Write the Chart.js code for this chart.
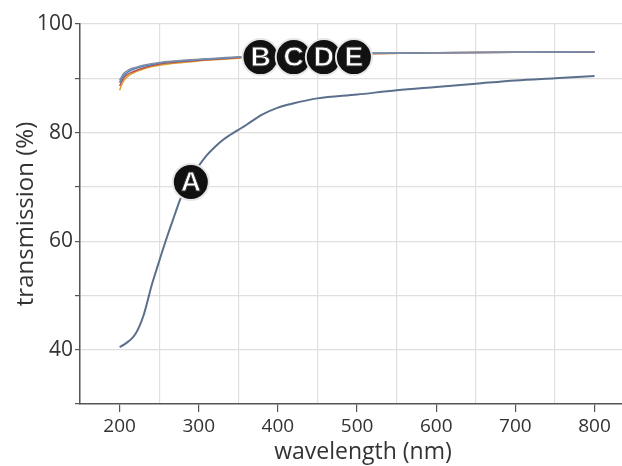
<!DOCTYPE html>
<html>
<head>
<meta charset="utf-8">
<script src="https://cdn.jsdelivr.net/npm/chart.js@4"></script>
<style>
  html, body { margin: 0; padding: 0; background: #fff; overflow: hidden; }
  #wrap { width: 622px; height: 466px; overflow: hidden; }
</style>
</head>
<body>
<div id="wrap"><canvas id="chart" width="650" height="466"></canvas></div>
<script>
// transmission curves
const wavelengthsA = [200, 205, 210, 215, 220, 225, 230, 235, 240, 245, 250, 255, 260, 265, 270, 275, 280, 290, 300, 310, 320, 330, 340, 350, 360, 380, 400, 420, 450, 500, 550, 600, 650, 700, 750, 800];
const seriesA = [40.5, 40.9, 41.4, 42.0, 42.9, 44.3, 46.2, 48.8, 51.6, 54.0, 56.3, 58.6, 60.8, 62.9, 65.0, 67.1, 68.9, 71.9, 73.9, 75.8, 77.3, 78.6, 79.6, 80.5, 81.4, 83.3, 84.6, 85.4, 86.3, 87.0, 87.8, 88.4, 89.0, 89.6, 90.0, 90.4];

const wavelengthsBE = [200, 203, 206, 210, 215, 220, 230, 240, 250, 260, 280, 300, 330, 360, 400, 450, 500, 600, 700, 800];
const seriesB = [87.8, 88.9, 89.7, 90.3, 90.8, 91.2, 91.7, 92.1, 92.4, 92.6, 92.9, 93.2, 93.5, 93.8, 94.2, 94.4, 94.5, 94.7, 94.8, 94.8];
const seriesC = [88.6, 89.5, 90.2, 90.7, 91.1, 91.4, 91.9, 92.3, 92.6, 92.8, 93.1, 93.3, 93.6, 93.9, 94.2, 94.4, 94.5, 94.7, 94.8, 94.8];
const seriesD = [89.2, 90.0, 90.6, 91.1, 91.5, 91.8, 92.2, 92.5, 92.8, 93.0, 93.2, 93.4, 93.7, 94.0, 94.3, 94.5, 94.6, 94.7, 94.8, 94.9];
const seriesE = [89.6, 90.4, 91.0, 91.4, 91.8, 92.0, 92.4, 92.7, 92.9, 93.1, 93.3, 93.5, 93.8, 94.0, 94.3, 94.5, 94.6, 94.7, 94.8, 94.9];

// curve labels, placed in data units
const labelText = ['A', 'B', 'C', 'D', 'E'];
const labelX = [290, 378, 420, 458, 496];
const labelY = [70.9, 93.9, 93.9, 93.9, 93.9];

const xMin = 150;
const xMax = 865;
const yMin = 30;
const yMax = 100;

function toPoints(xs, ys) {
  return xs.map((x, i) => ({ x: x, y: ys[i] }));
}

function lineSet(label, xs, ys, color, width) {
  return {
    label: label,
    data: toPoints(xs, ys),
    borderColor: color,
    borderWidth: width,
    pointRadius: 0,
    cubicInterpolationMode: 'monotone',
    fill: false
  };
}

const circleLabels = {
  id: 'circleLabels',
  afterDatasetsDraw(chart) {
    const ctx = chart.ctx;
    const xs = chart.scales.x;
    const ys = chart.scales.y;
    ctx.save();
    labelText.forEach((t, i) => {
      const px = xs.getPixelForValue(labelX[i]);
      const py = ys.getPixelForValue(labelY[i]);
      ctx.beginPath();
      ctx.arc(px, py, 18, 0, Math.PI * 2);
      ctx.fillStyle = '#111';
      ctx.fill();
      ctx.lineWidth = 2;
      ctx.strokeStyle = '#e6e6e6';
      ctx.stroke();
      ctx.font = 'bold 28px "Liberation Sans", Arial, sans-serif';
      ctx.textAlign = 'center';
      ctx.textBaseline = 'middle';
      ctx.fillStyle = '#fff';
      ctx.fillText(t, px, py + 1);
      ctx.lineWidth = 0.8;
      ctx.strokeStyle = '#333';
      ctx.strokeText(t, px, py + 1);
    });
    ctx.restore();
  }
};

// Chart.js paints the first dataset last, so E ends up on top of B-D
new Chart(document.getElementById('chart'), {
  type: 'line',
  data: {
    datasets: [
      lineSet('A', wavelengthsA, seriesA, '#5b6f8c', 2),
      lineSet('E', wavelengthsBE, seriesE, '#7f8ea4', 1.5),
      lineSet('D', wavelengthsBE, seriesD, '#4f81bd', 1.5),
      lineSet('C', wavelengthsBE, seriesC, '#c0504d', 1.5),
      lineSet('B', wavelengthsBE, seriesB, '#d9a02b', 1.5)
    ]
  },
  options: {
    responsive: false,
    animation: false,
    layout: { padding: { top: 24, right: 4, left: 0, bottom: 0 } },
    plugins: {
      legend: { display: false },
      tooltip: { enabled: false }
    },
    scales: {
      x: {
        type: 'linear',
        min: xMin,
        max: xMax,
        afterFit: s => { s.height = 62; },
        border: { color: '#555', width: 1.5 },
        grid: {
          color: c => (c.tick && c.tick.value % 100 === 50) ? '#e2dede' : 'rgba(0,0,0,0)',
          tickColor: c => (c.tick && c.tick.value % 100 === 0) ? '#555' : 'rgba(0,0,0,0)',
          tickLength: 8,
          lineWidth: 1.2
        },
        ticks: {
          stepSize: 50,
          autoSkip: false,
          maxRotation: 0,
          padding: 3,
          color: '#333',
          font: { family: '"Open Sans"', size: 19 },
          callback: v => (v % 100 === 0 ? String(v) : '')
        },
        title: {
          display: true,
          text: 'wavelength (nm)',
          color: '#333',
          font: { family: '"Open Sans"', size: 23 },
          padding: { top: 0, bottom: 0 }
        }
      },
      y: {
        min: yMin,
        max: yMax,
        afterFit: s => { s.width = 80; },
        border: { color: '#555', width: 1.5 },
        grid: {
          color: c => (c.tick && c.tick.value > yMin) ? '#e2dede' : 'rgba(0,0,0,0)',
          tickColor: '#555',
          tickLength: 5,
          lineWidth: 1.2
        },
        ticks: {
          stepSize: 10,
          autoSkip: false,
          padding: 2,
          color: '#333',
          font: { family: '"Open Sans"', size: 21 },
          callback: v => (v % 20 === 0 ? String(v) : '')
        },
        title: {
          display: true,
          text: 'transmission (%)',
          color: '#333',
          font: { family: '"Open Sans"', size: 24 },
          padding: { top: 12, bottom: 0 }
        }
      }
    }
  },
  plugins: [circleLabels]
});
</script>
</body>
</html>
